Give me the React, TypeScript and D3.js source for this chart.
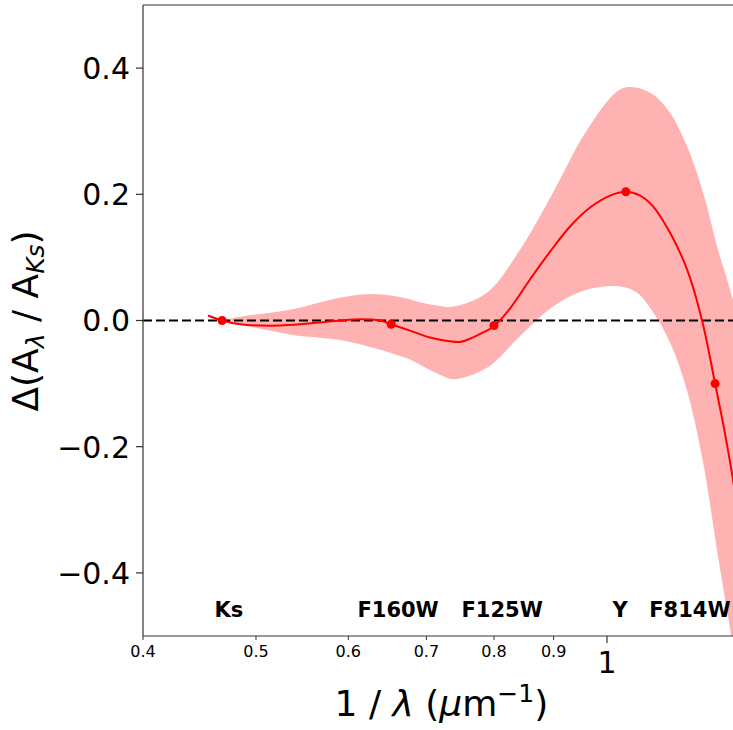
import React from "react";
import * as d3 from "d3";

// Filter reference points
const bandNames = ["Ks", "F160W", "F125W", "Y", "F814W"];
const pointX = [0.4676, 0.653, 0.8, 1.038, 1.238];
const pointY = [0.0, -0.006, -0.008, 0.204, -0.1];
const labelX = [0.474, 0.662, 0.813, 1.026, 1.178];

// Fitted curve
const curveX = [0.4548, 0.4676, 0.4844, 0.504, 0.5242, 0.5454, 0.5673, 0.5902, 0.614, 0.6388, 0.653, 0.6777, 0.705, 0.7334, 0.748, 0.7629, 0.783, 0.8, 0.8256, 0.8589, 0.8936, 0.9296, 0.9671, 1.0061, 1.038, 1.0675, 1.0952, 1.1326, 1.1712, 1.2065, 1.238, 1.2626, 1.2825, 1.3];
const curveY = [0.008, 0.0, -0.006, -0.008, -0.008, -0.006, -0.003, 0.0, 0.002, 0.0, -0.006, -0.016, -0.027, -0.033, -0.034, -0.029, -0.019, -0.009, 0.019, 0.065, 0.109, 0.149, 0.179, 0.198, 0.204, 0.198, 0.181, 0.139, 0.081, 0.0, -0.1, -0.18, -0.252, -0.32];

// Uncertainty band
const bandX = [0.4676, 0.4844, 0.5347, 0.5902, 0.63, 0.6737, 0.6912, 0.719, 0.7378, 0.789, 0.8421, 0.8989, 0.9614, 1.0261, 1.0612, 1.0952, 1.1326, 1.1712, 1.2089, 1.2452, 1.2701, 1.3];
const bandUpper = [0.0, 0.006, 0.017, 0.036, 0.042, 0.035, 0.029, 0.023, 0.022, 0.044, 0.112, 0.203, 0.302, 0.366, 0.369, 0.358, 0.329, 0.276, 0.203, 0.112, 0.06, -0.006];
const bandLower = [0.0, -0.006, -0.022, -0.031, -0.043, -0.06, -0.07, -0.086, -0.093, -0.075, -0.025, 0.022, 0.049, 0.054, 0.044, 0.013, -0.035, -0.111, -0.225, -0.374, -0.469, -0.584];

const yTicks = [-0.4, -0.2, 0.0, 0.2, 0.4];
const xMajorTicks = [1];
const xMinorTicks = [0.4, 0.5, 0.6, 0.7, 0.8, 0.9];

const W = 733;
const H = 730;
const L = 143;
const T = 5;
const B = 636;
const xDomain = [0.4, 1.3];

export default function App() {
  const x = d3.scaleLog().domain(xDomain).range([L, L + 1166 * Math.log10(xDomain[1] / xDomain[0])]);
  const y = d3.scaleLinear().domain([-0.5, 0.5]).range([B, T]);
  const R = x.range()[1];

  const lineGen = d3
    .line<number>()
    .x((_, i) => x(curveX[i]))
    .y((d) => y(d))
    .curve(d3.curveCatmullRom.alpha(0.5));

  const areaGen = d3
    .area<number>()
    .x((_, i) => x(bandX[i]))
    .y0((_, i) => y(bandLower[i]))
    .y1((d) => y(d))
    .curve(d3.curveCatmullRom.alpha(0.5));

  const font = "DejaVu Sans, sans-serif";
  const fmt = (v: number) => (v < 0 ? "\u2212" : "") + Math.abs(v).toFixed(1);

  return (
    <svg
      width={W}
      height={H}
      style={{ position: "absolute", left: 0, top: 0, background: "#fff" }}
      fontFamily={font}
    >
      <defs>
        <clipPath id="plotclip">
          <rect x={L} y={T} width={R - L} height={B - T} />
        </clipPath>
      </defs>
      <rect x={0} y={0} width={W} height={H} fill="#fff" />
      <g clipPath="url(#plotclip)">
        <path d={areaGen(bandUpper) || ""} fill="#ffb2b2" stroke="none" />
        <line x1={L} x2={R} y1={y(0)} y2={y(0)} stroke="#000" strokeWidth={2} strokeDasharray="9,4" />
        <path d={lineGen(curveY) || ""} fill="none" stroke="#ff0000" strokeWidth={2} />
        {pointX.map((px, i) => (
          <circle key={i} cx={x(px)} cy={y(pointY[i])} r={4.5} fill="#ff0000" />
        ))}
        {bandNames.map((n, i) => (
          <text key={n} x={x(labelX[i])} y={y(-0.47)} textAnchor="middle" fontWeight="bold" fontSize={21} fill="#000">
            {n}
          </text>
        ))}
      </g>
      {/* frame */}
      <line x1={L} x2={L} y1={T} y2={B} stroke="#333" strokeWidth={1.2} />
      <line x1={L} x2={R} y1={B} y2={B} stroke="#333" strokeWidth={1.2} />
      <line x1={L} x2={R} y1={T} y2={T} stroke="#333" strokeWidth={1.2} />
      {/* y ticks */}
      {yTicks.map((t) => (
        <g key={t}>
          <line x1={L - 7} x2={L} y1={y(t)} y2={y(t)} stroke="#333" strokeWidth={1.2} />
          <text x={L - 13} y={y(t)} dy="0.36em" textAnchor="end" fontSize={30} fill="#000">
            {fmt(t)}
          </text>
        </g>
      ))}
      {/* x ticks */}
      {xMajorTicks.map((t) => (
        <g key={t}>
          <line x1={x(t)} x2={x(t)} y1={B} y2={B + 7} stroke="#333" strokeWidth={1.2} />
          <text x={x(t)} y={673} textAnchor="middle" fontSize={30} fill="#000">
            {String(t)}
          </text>
        </g>
      ))}
      {xMinorTicks.map((t) => (
        <g key={t}>
          <line x1={x(t)} x2={x(t)} y1={B} y2={B + 4} stroke="#333" strokeWidth={1} />
          <text x={x(t)} y={657} textAnchor="middle" fontSize={16} fill="#000">
            {t.toFixed(1)}
          </text>
        </g>
      ))}
      {/* axis labels */}
      <text x={(L + R) / 2} y={716} textAnchor="middle" fontSize={36} fill="#000">
        1 / <tspan fontStyle="italic">λ</tspan> (<tspan fontStyle="italic">μ</tspan>m
        <tspan fontSize={25} dy={-14}>−1</tspan>
        <tspan dy={14}>)</tspan>
      </text>
      <text transform={`translate(38,321) rotate(-90)`} textAnchor="middle" fontSize={36} fill="#000">
        Δ(A<tspan fontSize={25} dy={6} fontStyle="italic">λ</tspan>
        <tspan dy={-6}> / A</tspan>
        <tspan fontSize={25} dy={6} fontStyle="italic">Ks</tspan>
        <tspan dy={-6}>)</tspan>
      </text>
    </svg>
  );
}
